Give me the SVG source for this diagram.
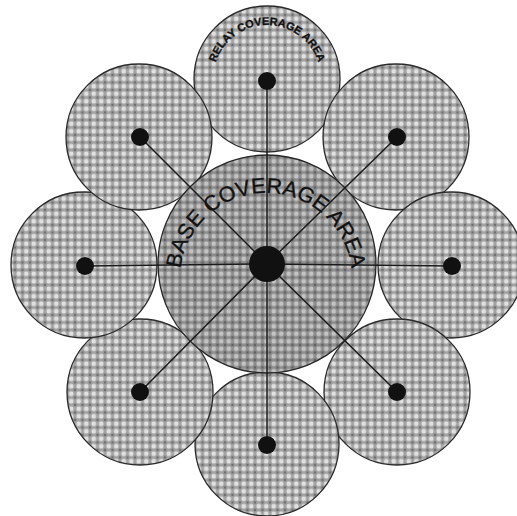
<svg xmlns="http://www.w3.org/2000/svg" width="517" height="516" viewBox="0 0 517 516">
<defs>
<pattern id="dots" width="7.5" height="7.5" patternUnits="userSpaceOnUse">
<rect width="7.5" height="7.5" fill="#a2a2a2"/>
<rect x="1.5" y="1.5" width="4.5" height="4.5" rx="1.8" fill="#e0e0e0"/>
<circle cx="0" cy="0" r="1.4" fill="#707070"/>
<circle cx="7.5" cy="0" r="1.4" fill="#707070"/>
<circle cx="0" cy="7.5" r="1.4" fill="#707070"/>
<circle cx="7.5" cy="7.5" r="1.4" fill="#707070"/>
</pattern>
<path id="baseArc" d="M 180,279 A 86 86 0 0 1 352,279"/>
<path id="relayArc" d="M 213,79 A 54 54 0 0 1 321,79"/>
</defs>
<style>
.relay{fill:url(#dots);stroke:#2a2a2a;stroke-width:1.3}
.base{fill:url(#dots);stroke:#2a2a2a;stroke-width:1.3}
.shade{fill:#000;fill-opacity:0.13;stroke:none}
.dot{fill:#111}
.conn line{stroke:#1a1a1a;stroke-width:1.5}
.lbl{font-family:"Liberation Sans",Arial,sans-serif;fill:#111;stroke:#111;stroke-width:0.3}
</style>
<rect width="517" height="516" fill="#fff"/>
<g id="relay-top"><circle class="relay" cx="267" cy="79" r="73"/></g>
<g id="relay-top-right"><circle class="relay" cx="396" cy="137" r="73"/></g>
<g id="relay-right"><circle class="relay" cx="451" cy="265" r="73"/></g>
<g id="relay-bottom-right"><circle class="relay" cx="397" cy="392" r="73"/></g>
<g id="relay-bottom"><circle class="relay" cx="267" cy="444" r="72"/></g>
<g id="relay-bottom-left"><circle class="relay" cx="140" cy="392" r="73"/></g>
<g id="relay-left"><circle class="relay" cx="84" cy="265" r="73"/></g>
<g id="relay-top-left"><circle class="relay" cx="139" cy="137" r="73"/></g>
<g id="base">
<circle class="base" cx="267" cy="264" r="109"/>
<circle class="shade" cx="267" cy="264" r="109"/>
</g>
<g id="connectors" class="conn">
<line x1="267" y1="264" x2="267" y2="81"/>
<line x1="267" y1="264" x2="397" y2="137"/>
<line x1="267" y1="264" x2="452" y2="266"/>
<line x1="267" y1="264" x2="397" y2="392"/>
<line x1="267" y1="264" x2="267" y2="445"/>
<line x1="267" y1="264" x2="140" y2="392"/>
<line x1="267" y1="264" x2="85" y2="266"/>
<line x1="267" y1="264" x2="140" y2="137"/>
</g>
<g id="dots-group">
<circle class="dot" cx="267" cy="264" r="18"/>
<circle class="dot" cx="267" cy="81" r="9"/>
<circle class="dot" cx="397" cy="137" r="9"/>
<circle class="dot" cx="452" cy="266" r="9"/>
<circle class="dot" cx="397" cy="392" r="9"/>
<circle class="dot" cx="267" cy="445" r="9"/>
<circle class="dot" cx="140" cy="392" r="9"/>
<circle class="dot" cx="85" cy="266" r="9"/>
<circle class="dot" cx="140" cy="137" r="9"/>
</g>
<text class="lbl" font-size="21.5"><textPath href="#baseArc" startOffset="50%" text-anchor="middle">BASE COVERAGE AREA</textPath></text>
<text class="lbl" font-size="11" font-weight="bold"><textPath href="#relayArc" startOffset="50%" text-anchor="middle">RELAY COVERAGE AREA</textPath></text>
</svg>
